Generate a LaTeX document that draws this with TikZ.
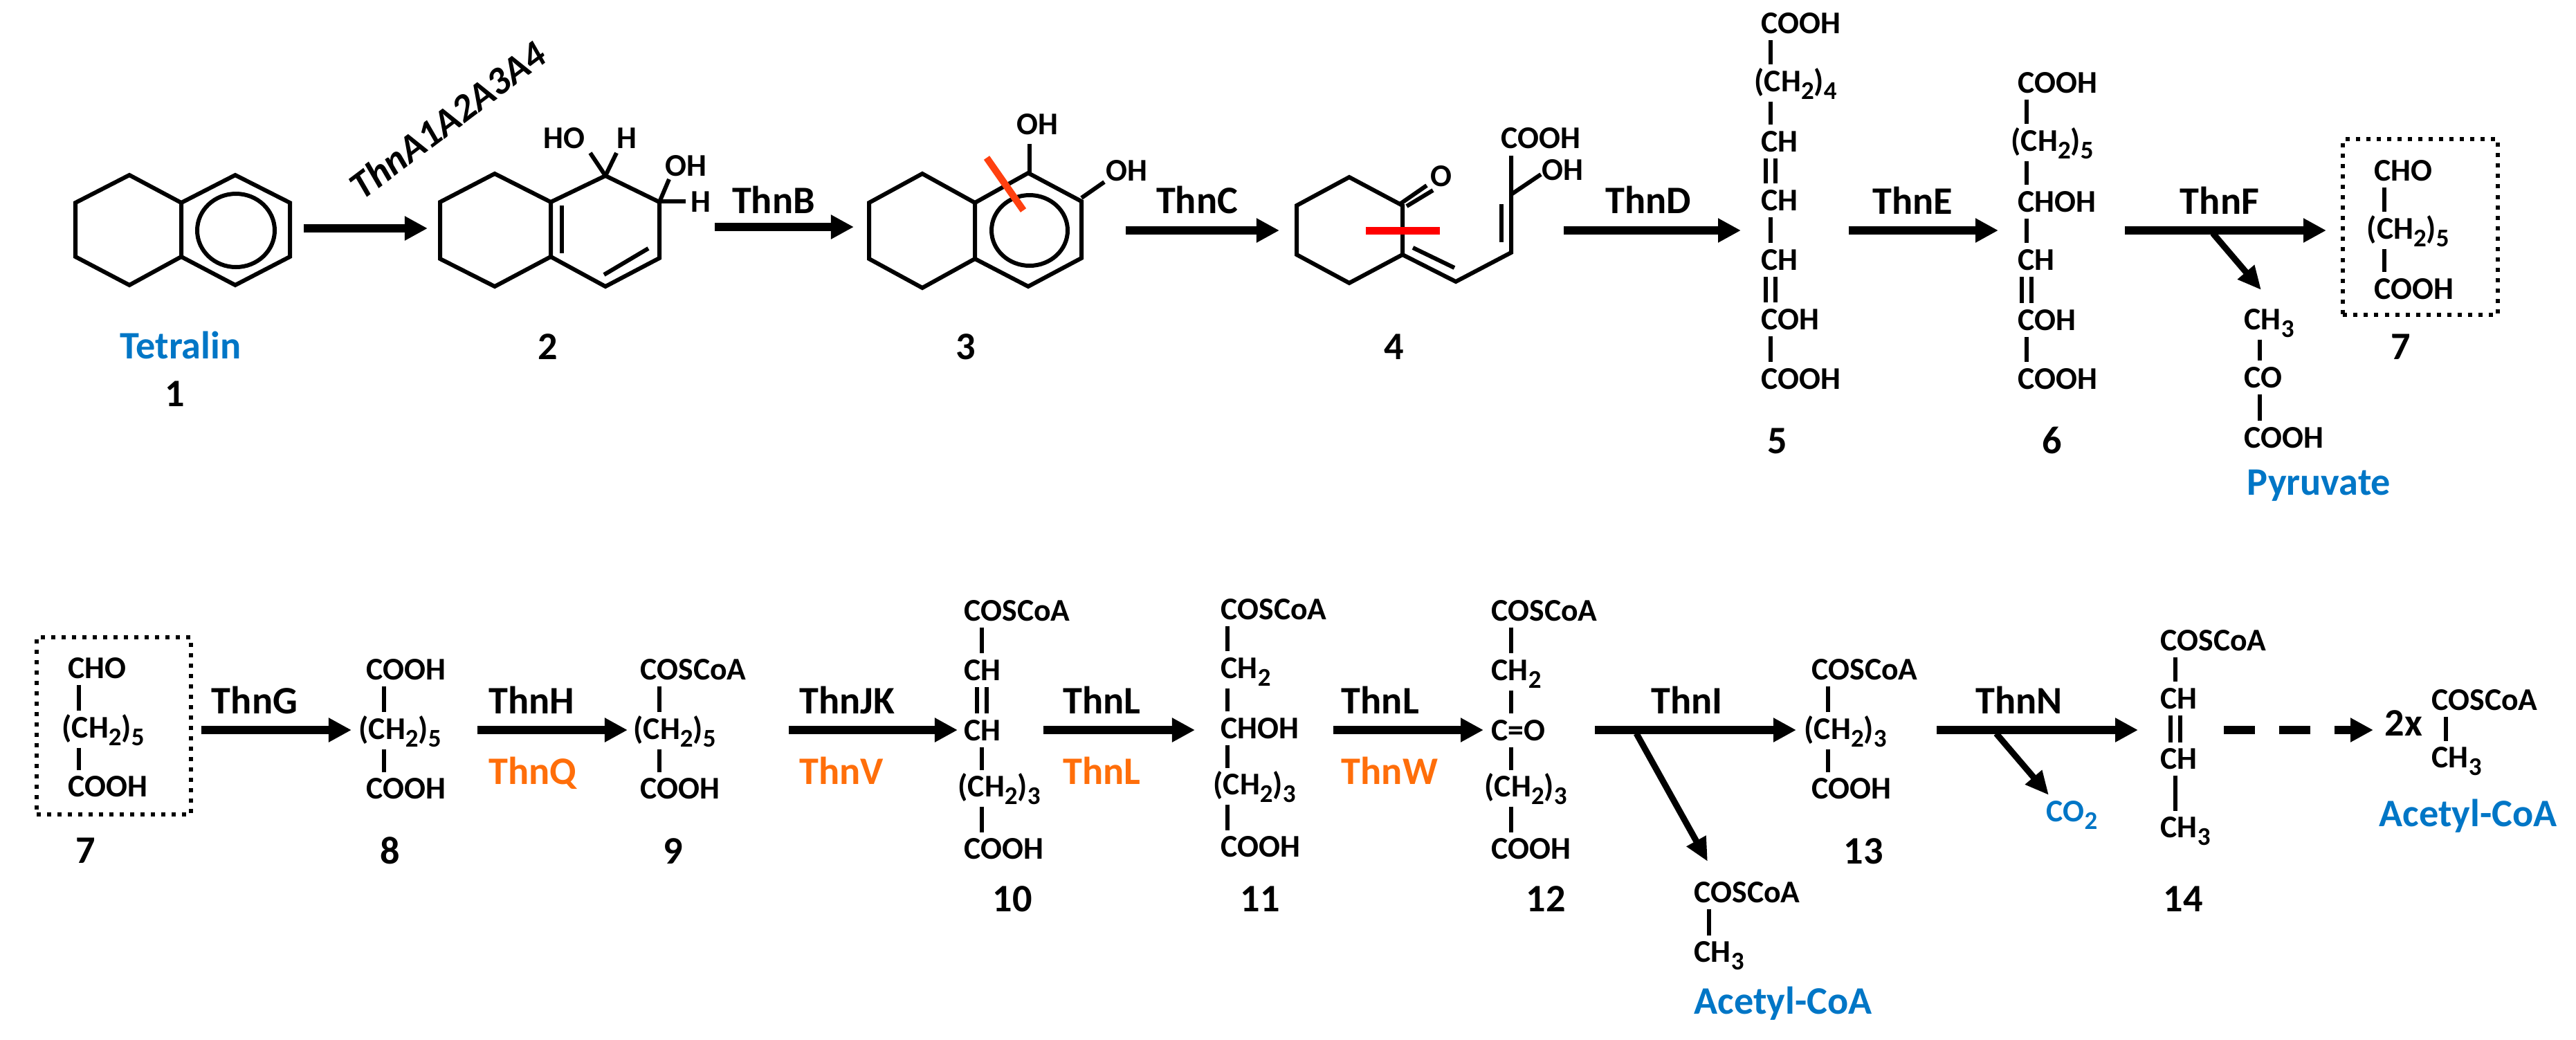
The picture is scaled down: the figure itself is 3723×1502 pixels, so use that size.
\documentclass[tikz,border=0pt]{standalone}
\usepackage{fontspec}
\setmainfont{Carlito}
\usetikzlibrary{arrows.meta}
\definecolor{blueLbl}{RGB}{0,118,198}
\definecolor{orangeLbl}{RGB}{255,110,10}
\definecolor{cutOrange}{RGB}{255,64,16}
\newcommand{\subs}[1]{\raisebox{-.11cm}{\fontsize{10.5}{11}\selectfont #1}}
\tikzset{
  chem/.style={font=\fontsize{13}{15}\selectfont\bfseries,inner sep=0pt,outer ysep=.095cm,text height=.29cm,text depth=0pt,anchor=base west},
  chemsub/.style={chem,text depth=.05cm},
  big/.style={font=\fontsize{16}{18}\selectfont\bfseries,inner sep=0pt,anchor=base},
  biglft/.style={big,anchor=base west},
  bond/.style={line width=.06cm},
  dbl/.style={line width=.06cm,double,double distance=.08cm},
  rxn/.style={line width=.12cm,-{Triangle[length=.33cm,width=.33cm]}},
  rxndash/.style={rxn,dash pattern=on .45cm off .35cm},
  side/.style={line width=.09cm,-{Triangle[length=.34cm,width=.3cm]}},
  dotbox/.style={draw,line width=.06cm,dash pattern=on .06cm off .09cm,inner sep=0pt}
}
\begin{document}
\begin{tikzpicture}[x=.01cm,y=-.01cm]
  \useasboundingbox[fill=white] (0,0) rectangle (3723,1502);

  \draw[bond] (187,253)--(109,293)--(109,371)--(187,412)--(262,371)--(262,293)--cycle;
  \draw[bond] (262,293)--(340,253)--(419,293)--(419,371)--(340,412)--(262,371);
  \draw[bond] (341,333) ellipse [x radius=56,y radius=53];
  \node[big,text=blueLbl] (tetralin) at (261,518) {Tetralin};
  \node[big] (num1) at (253,587) {1};

  \coordinate (arrA1) at (439,330);
  \coordinate (arrA2) at (618,330);
  \draw[rxn] (arrA1) -- (arrA2);
  \node[big,rotate=37,anchor=center] (thnA) at (647,173) {\itshape ThnA1A2A3A4};

  \draw[bond] (715,251)--(636,292)--(636,374)--(715,414)--(796,371)--(796,292)--cycle;
  \draw[bond] (796,292)--(875,254)--(953,292)--(953,373)--(875,414)--(796,371);
  \draw[bond] (812,297)--(812,366);
  \draw[bond] (873,397)--(937,359);
  \draw[bond] (875,254)--(853,221);
  \draw[bond] (875,254)--(891,221);
  \draw[bond] (953,292)--(967,259);
  \draw[bond] (953,291)--(991,291);
  \node[chem] (hoB) at (785,214) {HO};
  \node[chem] (hB) at (891,214) {H};
  \node[chem] (ohB) at (961,254) {OH};
  \node[chem] (hBb) at (998,306) {H};
  \node[big] (num2) at (792,519) {2};

  \coordinate (arrB1) at (1033,328);
  \coordinate (arrB2) at (1234,328);
  \draw[rxn] (arrB1) -- (arrB2);
  \node[big] (thnB) at (1118,308) {ThnB};

  \draw[bond] (1333,251)--(1256,293)--(1256,374)--(1333,416)--(1409,374)--(1409,293)--cycle;
  \draw[bond] (1409,293)--(1486,250)--(1563,291)--(1563,373)--(1486,414)--(1409,374);
  \draw[bond] (1488,333) ellipse [x radius=55,y radius=51];
  \draw[bond] (1488,250)--(1488,208);
  \draw[bond] (1563,286)--(1596,263);
  \draw[line width=.1cm,cutOrange] (1426,228)--(1479,304);
  \node[chem] (ohC) at (1469,194) {OH};
  \node[chem] (ohCb) at (1598,261) {OH};
  \node[big] (num3) at (1396,519) {3};

  \coordinate (arrC1) at (1627,333);
  \coordinate (arrC2) at (1849,333);
  \draw[rxn] (arrC1) -- (arrC2);
  \node[big] (thnC) at (1730,308) {ThnC};

  \draw[bond] (1950,256)--(1874,297)--(1874,368)--(1950,409)--(2027,368)--(2027,297)--cycle;
  \draw[bond] (2023,295)--(2062,268);
  \draw[bond] (2033,298)--(2071,275);
  \draw[bond] (2027,368)--(2104,407)--(2184,365)--(2184,225);
  \draw[bond] (2042,358)--(2102,387);
  \draw[bond] (2170,295)--(2170,350);
  \draw[bond] (2184,281)--(2227,252);
  \draw[line width=.11cm,red] (1974,333)--(2081,333);
  \node[chem] (oD) at (2067,269) {O};
  \node[chem] (coohD) at (2169,214) {COOH};
  \node[chem] (ohD) at (2228,260) {OH};
  \node[big] (num4) at (2015,519) {4};

  \coordinate (arrD1) at (2260,333);
  \coordinate (arrD2) at (2516,333);
  \draw[rxn] (arrD1) -- (arrD2);
  \node[big] (thnD) at (2382,308) {ThnD};

  \coordinate (x5) at (2559,0);
  \node[chem] (e1) at (2545,48) {COOH};
  \node[chemsub] (e2) at (2535,132) {(CH\subs{2})\subs{4}};
  \node[chem] (e3) at (2545,219) {CH};
  \node[chem] (e4) at (2545,304) {CH};
  \node[chem] (e5) at (2545,390) {CH};
  \node[chem] (e6) at (2545,476) {COH};
  \node[chem] (e7) at (2545,562) {COOH};
  \draw[bond] (e1.south -| x5) -- (e2.north -| x5);
  \draw[bond] (e2.south -| x5) -- (e3.north -| x5);
  \draw[dbl] (e3.south -| x5) -- (e4.north -| x5);
  \draw[bond] (e4.south -| x5) -- (e5.north -| x5);
  \draw[dbl] (e5.south -| x5) -- (e6.north -| x5);
  \draw[bond] (e6.south -| x5) -- (e7.north -| x5);
  \node[big] (num5) at (2569,655) {5};

  \coordinate (arrE1) at (2672,333);
  \coordinate (arrE2) at (2888,333);
  \draw[rxn] (arrE1) -- (arrE2);
  \node[big] (thnE) at (2764,309) {ThnE};

  \coordinate (x6) at (2929,0);
  \node[chem] (f1) at (2916,134) {COOH};
  \node[chemsub] (f2) at (2906,218) {(CH\subs{2})\subs{5}};
  \node[chem] (f3) at (2916,306) {CHOH};
  \node[chem] (f4) at (2916,390) {CH};
  \node[chem] (f5) at (2916,477) {COH};
  \node[chem] (f6) at (2916,562) {COOH};
  \draw[bond] (f1.south -| x6) -- (f2.north -| x6);
  \draw[bond] (f2.south -| x6) -- (f3.north -| x6);
  \draw[bond] (f3.south -| x6) -- (f4.north -| x6);
  \draw[dbl] (f4.south -| x6) -- (f5.north -| x6);
  \draw[bond] (f5.south -| x6) -- (f6.north -| x6);
  \node[big] (num6) at (2966,655) {6};

  \coordinate (arrF1) at (3071,333);
  \coordinate (arrF2) at (3362,333);
  \coordinate (sideF1) at (3198,337);
  \coordinate (sideF2) at (3268,419);
  \draw[rxn] (arrF1) -- (arrF2);
  \draw[side] (sideF1) -- (sideF2);
  \node[big] (thnF) at (3208,309) {ThnF};

  \coordinate (xp) at (3266,0);
  \node[chemsub] (p1) at (3243,476) {CH\subs{3}};
  \node[chem] (p2) at (3243,560) {CO};
  \node[chem] (p3) at (3243,647) {COOH};
  \draw[bond] (p1.south -| xp) -- (p2.north -| xp);
  \draw[bond] (p2.south -| xp) -- (p3.north -| xp);
  \node[biglft,text=blueLbl] (pyruvate) at (3247,715) {Pyruvate};

  \node[dotbox,minimum width=2.23cm,minimum height=2.53cm] (boxG) at (3498,328) {};
  \coordinate (xg) at (3446,0);
  \node[chem] (g1) at (3431,261) {CHO};
  \node[chemsub] (g2) at (3420,345) {(CH\subs{2})\subs{5}};
  \node[chem] (g3) at (3431,432) {COOH};
  \draw[bond] (g1.south -| xg) -- (g2.north -| xg);
  \draw[bond] (g2.south -| xg) -- (g3.north -| xg);
  \node[big] (num7) at (3470,519) {7};

  \node[dotbox,minimum width=2.23cm,minimum height=2.56cm] (boxH) at (164.5,1049) {};
  \coordinate (xh) at (114,0);
  \node[chem] (h1) at (98,980) {CHO};
  \node[chemsub] (h2) at (89,1066) {(CH\subs{2})\subs{5}};
  \node[chem] (h3) at (98,1151) {COOH};
  \draw[bond] (h1.south -| xh) -- (h2.north -| xh);
  \draw[bond] (h2.south -| xh) -- (h3.north -| xh);
  \node[big] (num7b) at (124,1247) {7};

  \coordinate (arrG1) at (291,1055);
  \coordinate (arrG2) at (508,1055);
  \draw[rxn] (arrG1) -- (arrG2);
  \node[big] (thnG) at (368,1031) {ThnG};

  \coordinate (x8) at (555,0);
  \node[chem] (i1) at (529,982) {COOH};
  \node[chemsub] (i2) at (518,1068) {(CH\subs{2})\subs{5}};
  \node[chem] (i3) at (529,1154) {COOH};
  \draw[bond] (i1.south -| x8) -- (i2.north -| x8);
  \draw[bond] (i2.south -| x8) -- (i3.north -| x8);
  \node[big] (num8) at (564,1248) {8};

  \coordinate (arrH1) at (690,1055);
  \coordinate (arrH2) at (907,1055);
  \draw[rxn] (arrH1) -- (arrH2);
  \node[biglft] (thnH) at (706,1031) {ThnH};
  \node[biglft,text=orangeLbl] (thnQ) at (706,1133) {ThnQ};

  \coordinate (x9) at (953,0);
  \node[chem] (j1) at (925,982) {COSCoA};
  \node[chemsub] (j2) at (915,1068) {(CH\subs{2})\subs{5}};
  \node[chem] (j3) at (925,1154) {COOH};
  \draw[bond] (j1.south -| x9) -- (j2.north -| x9);
  \draw[bond] (j2.south -| x9) -- (j3.north -| x9);
  \node[big] (num9) at (973,1248) {9};

  \coordinate (arrJ1) at (1140,1055);
  \coordinate (arrJ2) at (1384,1055);
  \draw[rxn] (arrJ1) -- (arrJ2);
  \node[biglft] (thnJK) at (1155,1031) {ThnJK};
  \node[biglft,text=orangeLbl] (thnV) at (1155,1133) {ThnV};

  \coordinate (x10) at (1419,0);
  \node[chem] (k1) at (1393,897) {COSCoA};
  \node[chem] (k2) at (1393,983) {CH};
  \node[chem] (k3) at (1393,1070) {CH};
  \node[chemsub] (k4) at (1384,1151) {(CH\subs{2})\subs{3}};
  \node[chem] (k5) at (1393,1241) {COOH};
  \draw[bond] (k1.south -| x10) -- (k2.north -| x10);
  \draw[dbl] (k2.south -| x10) -- (k3.north -| x10);
  \draw[bond] (k3.south -| x10) -- (k4.north -| x10);
  \draw[bond] (k4.south -| x10) -- (k5.north -| x10);
  \node[big] (num10) at (1463,1317) {10};

  \coordinate (arrL1) at (1508,1055);
  \coordinate (arrL2) at (1727,1055);
  \draw[rxn] (arrL1) -- (arrL2);
  \node[biglft] (thnL) at (1536,1031) {ThnL};
  \node[biglft,text=orangeLbl] (thnLo) at (1536,1133) {ThnL};

  \coordinate (x11) at (1774,0);
  \node[chem] (l1) at (1764,895) {COSCoA};
  \node[chemsub] (l2) at (1764,980) {CH\subs{2}};
  \node[chem] (l3) at (1764,1067) {CHOH};
  \node[chemsub] (l4) at (1753,1148) {(CH\subs{2})\subs{3}};
  \node[chem] (l5) at (1764,1238) {COOH};
  \draw[bond] (l1.south -| x11) -- (l2.north -| x11);
  \draw[bond] (l2.south -| x11) -- (l3.north -| x11);
  \draw[bond] (l3.south -| x11) -- (l4.north -| x11);
  \draw[bond] (l4.south -| x11) -- (l5.north -| x11);
  \node[big] (num11) at (1821,1317) {11};

  \coordinate (arrM1) at (1927,1055);
  \coordinate (arrM2) at (2144,1055);
  \draw[rxn] (arrM1) -- (arrM2);
  \node[biglft] (thnLb) at (1938,1031) {ThnL};
  \node[biglft,text=orangeLbl] (thnW) at (1938,1133) {ThnW};

  \coordinate (x12) at (2184,0);
  \node[chem] (m1) at (2155,897) {COSCoA};
  \node[chemsub] (m2) at (2155,983) {CH\subs{2}};
  \node[chem] (m3) at (2155,1070) {C=O};
  \node[chemsub] (m4) at (2145,1151) {(CH\subs{2})\subs{3}};
  \node[chem] (m5) at (2155,1241) {COOH};
  \draw[bond] (m1.south -| x12) -- (m2.north -| x12);
  \draw[bond] (m2.south -| x12) -- (m3.north -| x12);
  \draw[bond] (m3.south -| x12) -- (m4.north -| x12);
  \draw[bond] (m4.south -| x12) -- (m5.north -| x12);
  \node[big] (num12) at (2234,1317) {12};

  \coordinate (arrN1) at (2305,1055);
  \coordinate (arrN2) at (2596,1055);
  \coordinate (sideN1) at (2365,1060);
  \coordinate (sideN2) at (2468,1245);
  \draw[rxn] (arrN1) -- (arrN2);
  \draw[side] (sideN1) -- (sideN2);
  \node[big] (thnI) at (2438,1031) {ThnI};

  \coordinate (xa) at (2470,0);
  \node[chem] (a1) at (2448,1304) {COSCoA};
  \node[chemsub] (a2) at (2448,1390) {CH\subs{3}};
  \draw[bond] (a1.south -| xa) -- (a2.north -| xa);
  \node[biglft,text=blueLbl] (acetylA) at (2448,1465) {Acetyl-CoA};

  \coordinate (x13) at (2642,0);
  \node[chem] (n1) at (2618,982) {COSCoA};
  \node[chemsub] (n2) at (2607,1068) {(CH\subs{2})\subs{3}};
  \node[chem] (n3) at (2618,1154) {COOH};
  \draw[bond] (n1.south -| x13) -- (n2.north -| x13);
  \draw[bond] (n2.south -| x13) -- (n3.north -| x13);
  \node[big] (num13) at (2693,1248) {13};

  \coordinate (arrO1) at (2799,1055);
  \coordinate (arrO2) at (3090,1055);
  \coordinate (sideO1) at (2885,1060);
  \coordinate (sideO2) at (2961,1149);
  \draw[rxn] (arrO1) -- (arrO2);
  \draw[side] (sideO1) -- (sideO2);
  \node[big] (thnN) at (2918,1031) {ThnN};
  \node[chem,text=blueLbl] (co2) at (2957,1187) {CO\subs{2}};

  \coordinate (x14) at (3144,0);
  \node[chem] (o1) at (3122,940) {COSCoA};
  \node[chem] (o2) at (3122,1024) {CH};
  \node[chem] (o3) at (3122,1111) {CH};
  \node[chemsub] (o4) at (3122,1210) {CH\subs{3}};
  \draw[bond] (o1.south -| x14) -- (o2.north -| x14);
  \draw[dbl] (o2.south -| x14) -- (o3.north -| x14);
  \draw[bond] (o3.south -| x14) -- (o4.north -| x14);
  \node[big] (num14) at (3155,1317) {14};

  \coordinate (arrP1) at (3214,1055);
  \coordinate (arrP2) at (3430,1055);
  \draw[rxndash] (arrP1) -- (arrP2);
  \node[biglft] (two) at (3446,1063) {2x};

  \coordinate (xq) at (3535,0);
  \node[chem] (q1) at (3514,1026) {COSCoA};
  \node[chemsub] (q2) at (3514,1109) {CH\subs{3}};
  \draw[bond] (q1.south -| xq) -- (q2.north -| xq);
  \node[biglft,text=blueLbl] (acetylB) at (3438,1194) {Acetyl-CoA};
\end{tikzpicture}
\end{document}
